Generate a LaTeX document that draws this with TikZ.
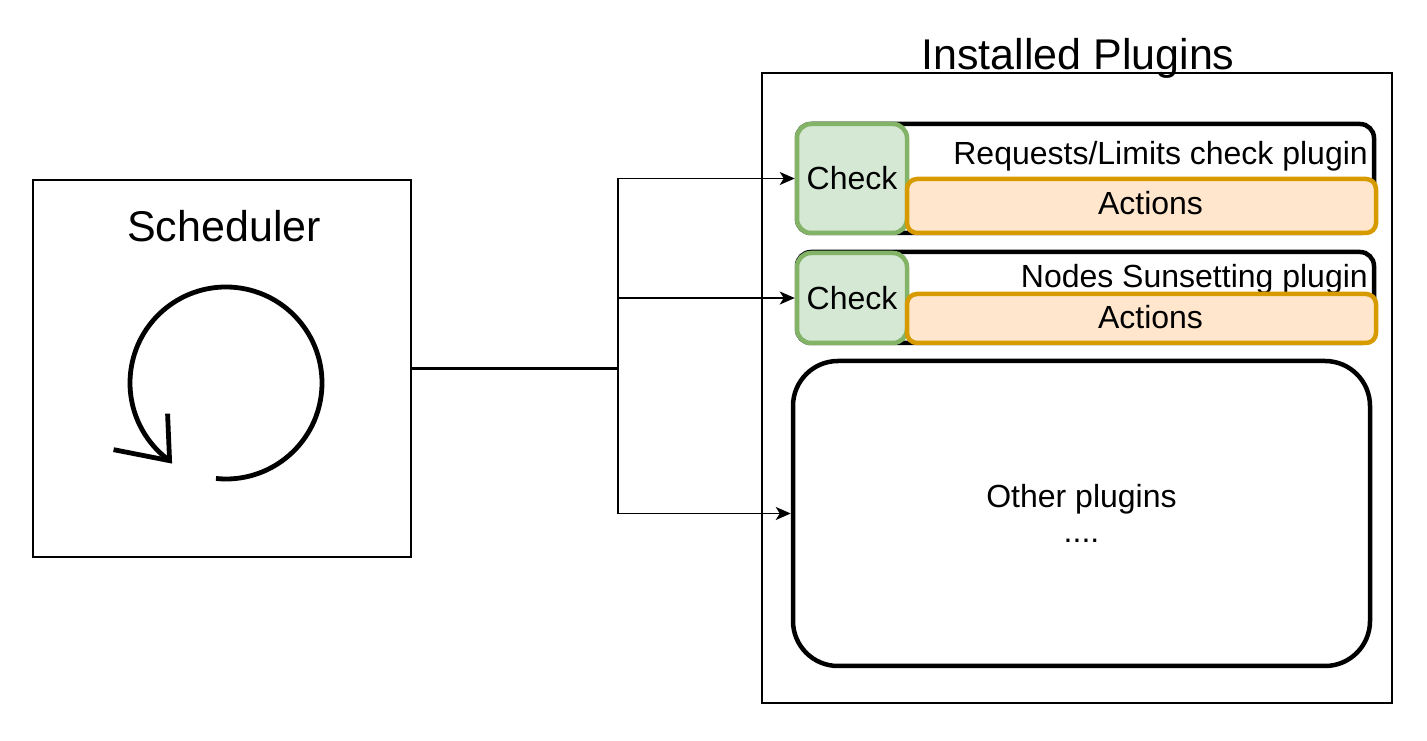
\documentclass[tikz,border=0pt]{standalone}
\usepackage{fontspec}
\setmainfont{Liberation Sans}
\usetikzlibrary{arrows.meta, positioning}
\definecolor{CheckFill}{RGB}{213, 232, 212}
\definecolor{CheckLine}{RGB}{130, 179, 102}
\definecolor{ActionFill}{RGB}{255, 230, 204}
\definecolor{ActionLine}{RGB}{215, 155, 0}

\begin{document}
\begin{tikzpicture}[x=1pt,y=1pt,
    thinbox/.style={draw, line width=1.8pt, inner sep=0pt},
    pluginbox/.style={draw, line width=4.5pt, rounded corners=14pt, inner sep=0pt},
    checkbox/.style={draw=CheckLine, fill=CheckFill, line width=4.5pt, rounded corners=14pt,
                     minimum width=110pt, inner sep=0pt, font=\fontsize{32}{35}\selectfont},
    actionbox/.style={draw=ActionLine, fill=ActionFill, line width=4.5pt, rounded corners=10pt,
                      minimum width=469pt, inner sep=0pt, font=\fontsize{32}{35}\selectfont},
    actiontext/.style={inner sep=0pt, font=\fontsize{32}{35}\selectfont},
    label/.style={inner sep=0pt, font=\fontsize{32}{35}\selectfont},
    title/.style={inner sep=0pt, font=\fontsize{43}{50}\selectfont},
    conn/.style={line width=1.8pt, -{Stealth[length=15pt, width=13pt, inset=4pt]}}]
  \useasboundingbox (0,0) rectangle (1427,741);

  % scheduler
  \node[thinbox, minimum width=378pt, minimum height=377pt] (sched) at (222,372.5) {};
  \node[title, anchor=base] (schedname) at (224,499.5) {Scheduler};
  \coordinate (loopc) at (226,358);
  \draw[line width=4.8pt] ([shift={(264:96)}]loopc) arc[start angle=264, end angle=594, radius=96] coordinate (looptip);
  \draw[line width=4.8pt, line join=miter] (looptip) ++(-56,11) -- (looptip) -- ++(-2,47);

  % installed plugins
  \node[thinbox, minimum width=630pt, minimum height=630pt] (installed) at (1077,353) {};
  \node[title, anchor=base] (installedname) at (1078,671) {Installed Plugins};

  \node[pluginbox, minimum width=577pt, minimum height=109pt] (plugin1) at (1085.5,562.5) {};
  \node[label, anchor=base east] (plugin1name) at (1368,576.5) {Requests/Limits check plugin};
  \node[checkbox, minimum height=109pt] (check1) at (852,562.5) {Check};
  \node[actionbox, minimum height=54pt] (actions1) at (1141.5,535) {};
  \node[actiontext] at ([xshift=9pt, yshift=3pt]actions1.center) {Actions};

  \node[pluginbox, minimum width=577pt, minimum height=91pt] (plugin2) at (1085.5,443.5) {};
  \node[label, anchor=base east] (plugin2name) at (1368,453.5) {Nodes Sunsetting plugin};
  \node[checkbox, minimum height=90pt] (check2) at (852,443) {Check};
  \node[actionbox, minimum height=49pt] (actions2) at (1141.5,422.5) {};
  \node[actiontext] at ([xshift=9pt, yshift=1.5pt]actions2.center) {Actions};

  \node[pluginbox, rounded corners=45pt, minimum width=577pt, minimum height=305pt,
        align=center, font=\fontsize{32}{35}\selectfont] (others) at (1081.5,227.5) {Other plugins\\....};

  % connectors
  \coordinate (junc) at (618,372.5);
  \draw[line width=2.4pt] (sched.east) -- (junc);
  \draw[conn] (junc) |- (check1.west);
  \draw[conn] (junc) |- (check2.west);
  \draw[conn] (junc) |- (others.west);
\end{tikzpicture}
\end{document}
